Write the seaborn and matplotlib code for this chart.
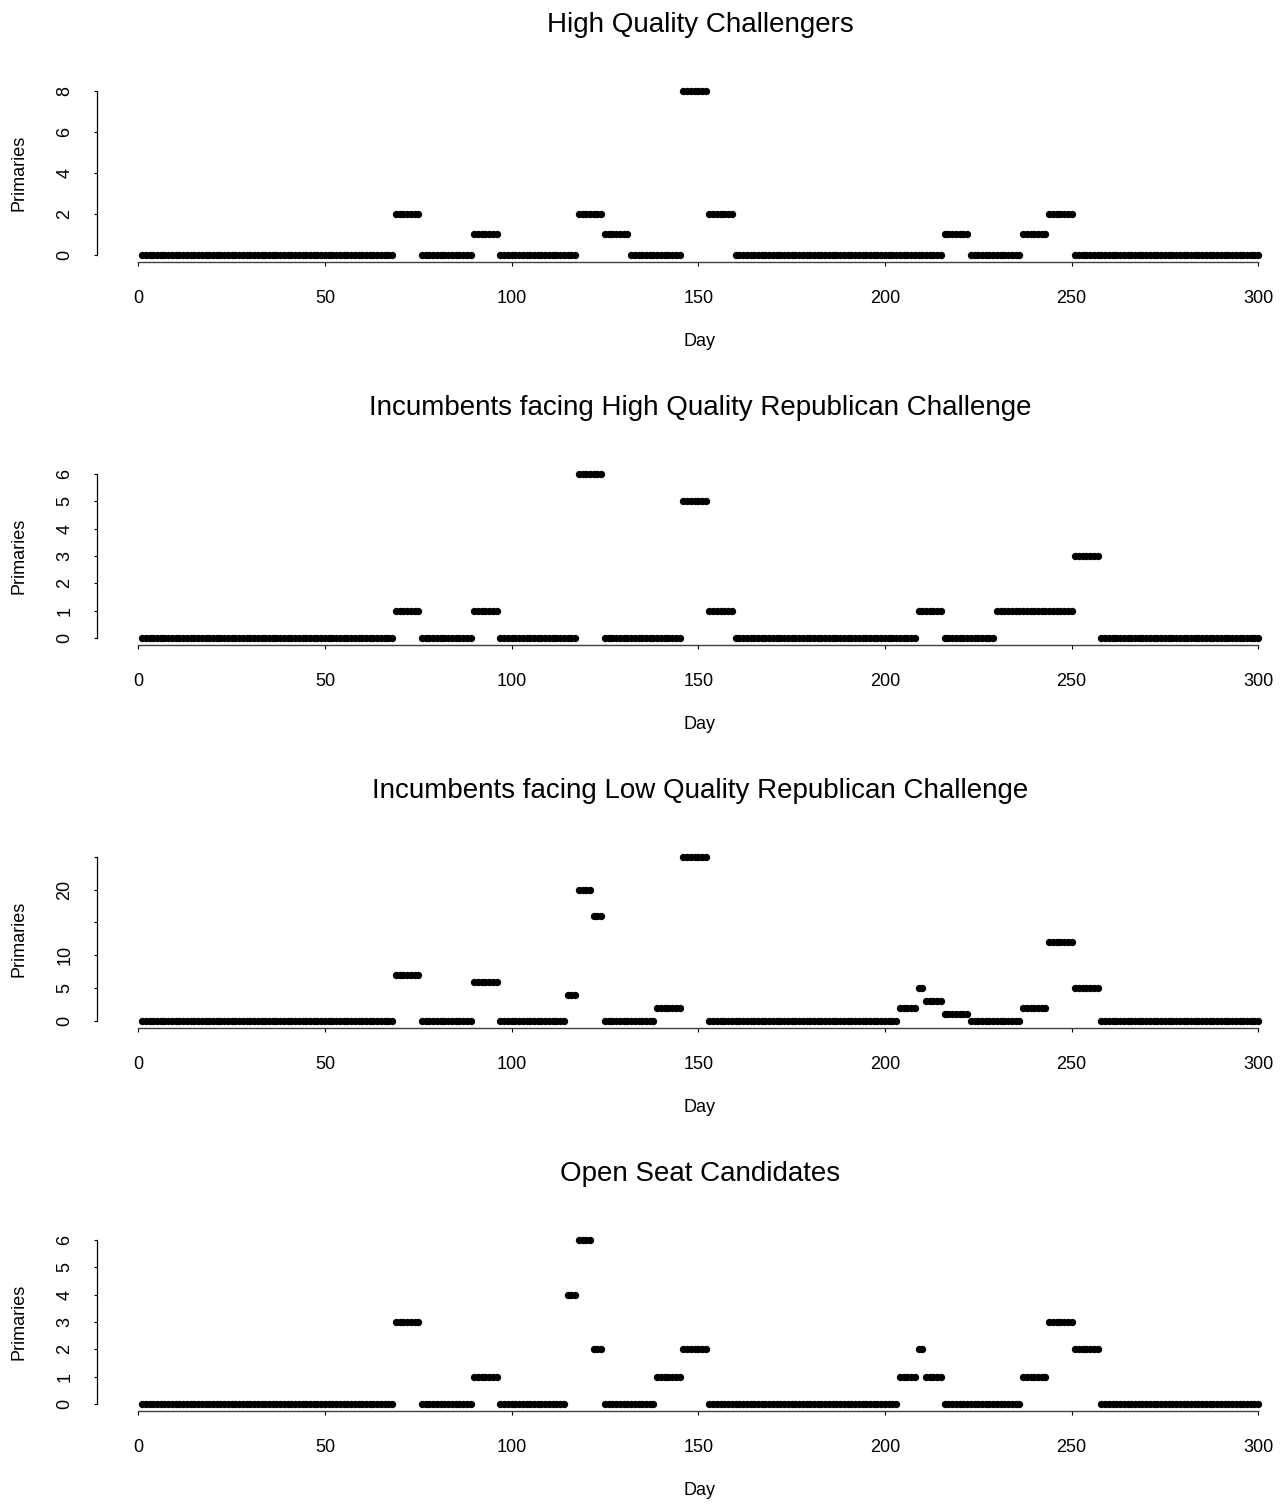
import numpy as np
import pandas as pd
import matplotlib
matplotlib.use("Agg")
import matplotlib.pyplot as plt
import seaborn as sns

# Weekly counts of primaries: each run starts on the given day and lasts
# until the day before the next start (the last run ends on day 300).
LAST_DAY = 300

hq_starts = [1, 69, 76, 90, 97, 118, 125, 132, 146, 153, 160, 216, 223, 237, 244, 251]
hq_values = [0, 2, 0, 1, 0, 2, 1, 0, 8, 2, 0, 1, 0, 1, 2, 0]

inc_hq_starts = [1, 69, 76, 90, 97, 118, 125, 146, 153, 160, 209, 216, 230, 251, 258]
inc_hq_values = [0, 1, 0, 1, 0, 6, 0, 5, 1, 0, 1, 0, 1, 3, 0]

inc_lq_starts = [1, 69, 76, 90, 97, 115, 118, 122, 125, 139, 146, 153, 204, 209, 211,
                 216, 223, 237, 244, 251, 258]
inc_lq_values = [0, 7, 0, 6, 0, 4, 20, 16, 0, 2, 25, 0, 2, 5, 3, 1, 0, 2, 12, 5, 0]

open_starts = [1, 69, 76, 90, 97, 115, 118, 122, 125, 139, 146, 153, 204, 209, 211,
               216, 237, 244, 251, 258]
open_values = [0, 3, 0, 1, 0, 4, 6, 2, 0, 1, 2, 0, 1, 2, 1, 0, 1, 3, 2, 0]

titles = [
    "High Quality Challengers",
    "Incumbents facing High Quality Republican Challenge",
    "Incumbents facing Low Quality Republican Challenge",
    "Open Seat Candidates",
]
x_ticks = [0, 50, 100, 150, 200, 250, 300]
y_ticks = [
    [0, 2, 4, 6, 8],
    [0, 1, 2, 3, 4, 5, 6],
    [0, 5, 10, 15, 20, 25],
    [0, 1, 2, 3, 4, 5, 6],
]
y_tick_labels = [
    ["0", "2", "4", "6", "8"],
    ["0", "1", "2", "3", "4", "5", "6"],
    ["0", "5", "10", "", "20", ""],
    ["0", "1", "2", "3", "4", "5", "6"],
]
series = [
    (hq_starts, hq_values),
    (inc_hq_starts, inc_hq_values),
    (inc_lq_starts, inc_lq_values),
    (open_starts, open_values),
]


def expand_runs(starts, values):
    days, counts = [], []
    ends = list(starts[1:]) + [LAST_DAY + 1]
    for s, e, v in zip(starts, ends, values):
        for d in range(s, e):
            days.append(d)
            counts.append(v)
    return pd.DataFrame({"Day": days, "Primaries": counts})


sns.set_style("white")
plt.rcParams["font.family"] = ["Liberation Sans", "DejaVu Sans"]
plt.rcParams["text.color"] = "black"
plt.rcParams["xtick.color"] = "black"
plt.rcParams["ytick.color"] = "black"
plt.rcParams["axes.labelcolor"] = "black"

W, H = 1285, 1504
fig = plt.figure(figsize=(W / 100, H / 100), dpi=100)

px_per_day = 3.733
x_lo, x_hi = -10.96, 311.96
ax_left = 97.4
ax_width = (x_hi - x_lo) * px_per_day
ax_height = 177.4
bottoms = [261.6, 644.6, 1027.6, 1410.6]
step = 383.0

for i in range(4):
    df = expand_runs(*series[i])
    ymax = y_ticks[i][-1]
    b = bottoms[i]
    ax = fig.add_axes([ax_left / W, 1 - b / H, ax_width / W, ax_height / H])
    sns.scatterplot(data=df, x="Day", y="Primaries", ax=ax, color="black",
                    s=28, linewidth=0, legend=False, clip_on=False)
    ax.set_xlim(x_lo, x_hi)
    ax.set_ylim(-0.04 * ymax, 1.04 * ymax)
    ax.set_xlabel("")
    ax.set_ylabel("")
    for side in ("top", "right"):
        ax.spines[side].set_visible(False)
    ax.spines["bottom"].set_bounds(0, 300)
    ax.spines["left"].set_bounds(0, ymax)
    ax.spines["bottom"].set_color("#404040")
    ax.spines["left"].set_color("black")
    ax.spines["bottom"].set_linewidth(1.0)
    ax.spines["left"].set_linewidth(0.9)
    ax.set_xticks(x_ticks)
    ax.set_xticklabels([str(t) for t in x_ticks])
    ax.set_yticks(y_ticks[i])
    ax.set_yticklabels(y_tick_labels[i])
    ax.tick_params(axis="x", direction="out", length=3.0, width=0.8,
                   color="black", labelcolor="black", pad=17.5,
                   labelsize=13, bottom=True)
    ax.tick_params(axis="y", direction="out", length=2.3, width=0.8,
                   color="black", labelcolor="black", pad=15, labelsize=13,
                   left=True, labelrotation=90)
    for lab in ax.get_yticklabels():
        lab.set_va("center")
    ax.grid(False)
    ax.patch.set_alpha(0)

    top = b - ax_height
    fig.text(700 / W, 1 - (25 + step * i) / H, titles[i], ha="center",
             va="center", fontsize=20, color="black")
    fig.text(700 / W, 1 - (b + 80) / H, "Day", ha="center", va="center",
             fontsize=13, color="black")
    fig.text(19 / W, 1 - (top + ax_height / 2) / H, "Primaries", ha="center",
             va="center", rotation=90, fontsize=13, color="black")

fig.savefig("out.png", dpi=100, facecolor="white")
